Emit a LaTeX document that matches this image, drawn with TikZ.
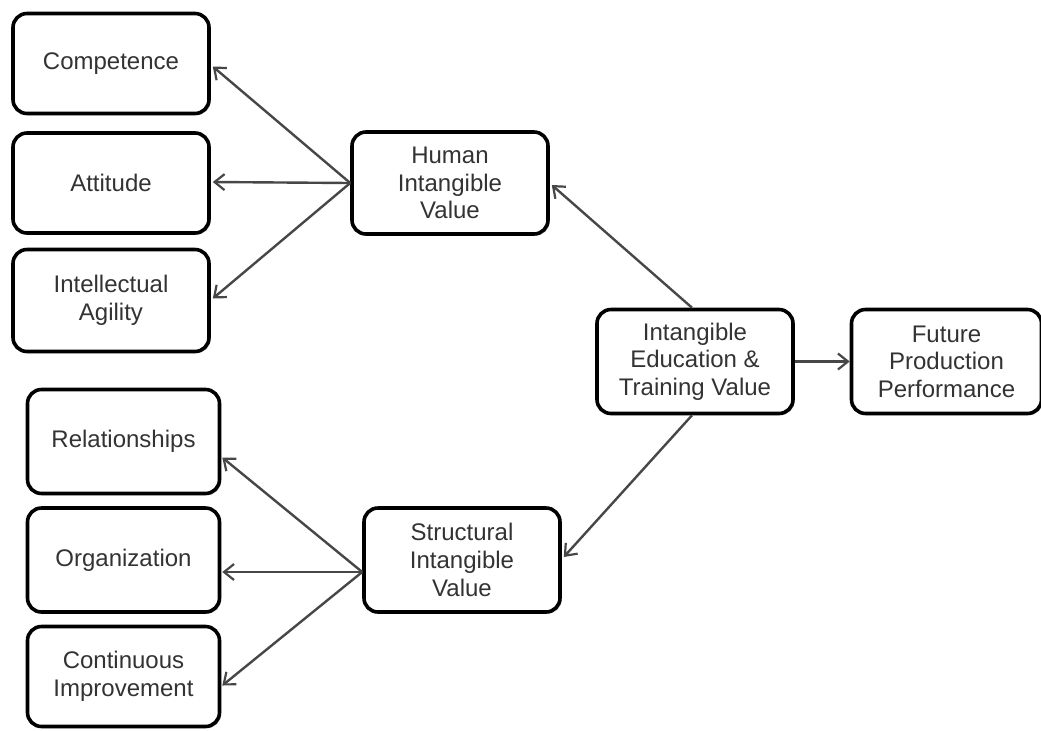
\documentclass[tikz,border=0pt]{standalone}
\usepackage{fontspec}
\setmainfont{Liberation Sans}
\usetikzlibrary{calc,arrows.meta,shadows}
\begin{document}
\begin{tikzpicture}[x=0.5pt,y=-0.5pt,
  box/.style={draw=black, line width=1.8pt, rounded corners=7pt, fill=white,
    align=center, inner sep=0pt, text=black!80,
    font=\fontsize{12pt}{13.8pt}\selectfont,
    drop shadow={shadow xshift=0.8pt, shadow yshift=-0.8pt, fill=black!45, opacity=0.6}},
  link/.style={draw=black!72, line width=1.2pt,
    -{Straight Barb[length=5pt,width=8pt,line width=1.1pt]}}]
\useasboundingbox (0,0) rectangle (1041,730);

% Human intangible value branch
\node[box, minimum width=98pt, minimum height=50pt] (comp) at (111,63.5) {Competence};
\node[box, minimum width=98pt, minimum height=50pt] (att)  at (111,183) {Attitude};
\node[box, minimum width=98pt, minimum height=51pt] (agil) at (111,300.5) {Intellectual\\Agility};
\node[box, minimum width=98pt, minimum height=51pt] (human) at (450,183) {Human\\Intangible\\Value};

% Central node and outcome
\node[box, minimum width=98pt, minimum height=52pt] (ed) at (695,361.5) {Intangible\\Education \&\\Training Value};
\node[box, minimum width=95pt, minimum height=52pt] (fut) at (946.5,361.5) {Future\\Production\\Performance};

% Structural intangible value branch
\node[box, minimum width=96pt, minimum height=52pt] (rel)  at (123.5,441.5) {Relationships};
\node[box, minimum width=96pt, minimum height=52pt] (org)  at (123.5,560) {Organization};
\node[box, minimum width=96pt, minimum height=50pt] (cont) at (123.5,676.5) {Continuous\\Improvement};
\node[box, minimum width=98pt, minimum height=52pt] (struct) at (462,560) {Structural\\Intangible\\Value};

% connector end points along the box sides
\coordinate (hw) at (human.west);
\coordinate (sw) at ($(struct.west)+(0,12)$);
\coordinate (compE) at ($(comp.east)+(2,3)$);
\coordinate (attE)  at ($(att.east)+(2,-1)$);
\coordinate (agilE) at ($(agil.east)+(2,-2)$);
\coordinate (relE)  at ($(rel.east)+(1,16)$);
\coordinate (orgE)  at ($(org.east)+(1,12)$);
\coordinate (contE) at ($(cont.east)+(1,9)$);
\coordinate (edN) at ($(ed.north)+(-3,0)$);
\coordinate (edS) at ($(ed.south)+(-3,0)$);

\draw[link] (hw) -- (compE);
\draw[link] (hw) -- (attE);
\draw[link] (hw) -- (agilE);
\draw[link] (sw) -- (relE);
\draw[link] (sw) -- (orgE);
\draw[link] (sw) -- (contE);
\draw[link] (edN) -- ($(human.east)+(2,2)$);
\draw[link] (edS) -- ($(struct.east)+(2,-3)$);
\draw[link] (ed.east) -- (fut.west);
\end{tikzpicture}
\end{document}
